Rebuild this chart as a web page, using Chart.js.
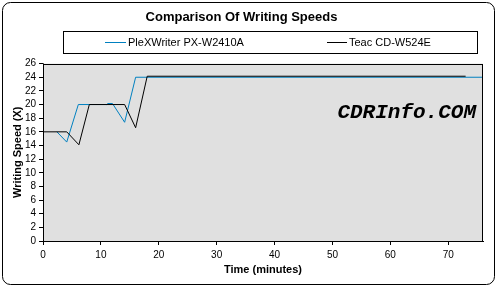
<!DOCTYPE html>
<html>
<head>
<meta charset="utf-8">
<script src="https://cdn.jsdelivr.net/npm/chart.js@4"></script>
<style>
  html, body { margin: 0; padding: 0; background: #fff; }
  #wrap { width: 498px; height: 288px; }
</style>
</head>
<body>
<div id="wrap"><canvas id="speed-chart" width="498" height="288"></canvas></div>
<script>
// values (minutes / X speed)
const plexTime  = [2.4, 4.1, 6.1, 11, 11.2, 12, 14.1, 16, 76];
const plexSpeed = [16, 14.5, 20, 20, 20.15, 20.15, 17.4, 24, 24];
const teacTime  = [0, 4.1, 6.2, 8, 14.1, 16, 18, 73];
const teacSpeed = [16, 16, 14.1, 20, 20, 16.6, 24.15, 24.15];
const seriesNames = ['PleXWriter PX-W2410A', 'Teac CD-W524E'];
const seriesColors = ['#0080c0', '#000000'];

function _points(xs, ys) {
    return xs.map((x, i) => ({x: x, y: ys[i]}));
}

const frame = {
    id: 'frame',
    beforeDatasetsDraw(chart) {
        const a = chart.chartArea, ctx = chart.ctx;
        ctx.save();
        ctx.fillStyle = '#e0e0e0';
        ctx.fillRect(a.left, a.top, a.right - a.left, a.bottom - a.top);
        ctx.restore();
    },
    afterDraw(chart) {
        const a = chart.chartArea, ctx = chart.ctx;
        ctx.save();
        ctx.strokeStyle = '#000';
        ctx.lineWidth = 1;
        ctx.strokeRect(Math.round(a.left) + 0.5, Math.round(a.top) + 0.5,
            Math.round(a.right - a.left) - 1, Math.round(a.bottom - a.top));
        // outer rounded frame
        ctx.beginPath();
        ctx.roundRect(2.5, 2.5, 492, 282, 8);
        ctx.stroke();
        // legend box
        ctx.strokeRect(63.5, 31.5, 414, 22);
        const items = [[105, 128], [327, 349]];
        ctx.font = '11px "Liberation Sans", Arial, sans-serif';
        ctx.textBaseline = 'middle';
        chart.data.datasets.forEach((ds, i) => {
            ctx.strokeStyle = ds.borderColor;
            ctx.beginPath();
            ctx.moveTo(items[i][0], 42.5);
            ctx.lineTo(items[i][1] - 2, 42.5);
            ctx.stroke();
            ctx.fillStyle = '#000';
            ctx.fillText(ds.label, items[i][1], 43);
        });
        // watermark
        ctx.font = 'italic bold 21px "Liberation Mono", "Courier New", monospace';
        ctx.textAlign = 'right';
        ctx.fillText('CDRInfo.COM', 476, 113);
        ctx.restore();
    }
};

new Chart(document.getElementById('speed-chart'), {
    type: 'scatter',
    data: {
        datasets: [{
            label: seriesNames[0],
            data: _points(plexTime, plexSpeed),
            showLine: true,
            borderColor: seriesColors[0],
            backgroundColor: seriesColors[0],
            borderWidth: 1,
            pointRadius: 0,
            order: 1
        }, {
            label: seriesNames[1],
            data: _points(teacTime, teacSpeed),
            showLine: true,
            borderColor: seriesColors[1],
            backgroundColor: seriesColors[1],
            borderWidth: 1,
            pointRadius: 0,
            order: 0
        }]
    },
    options: {
        responsive: false,
        animation: false,
        devicePixelRatio: 1,
        layout: {padding: {left: 0, right: 15, top: 0, bottom: 0}},
        plugins: {
            legend: {display: false},
            tooltip: {enabled: false},
            title: {
                display: true,
                text: 'Comparison Of Writing Speeds',
                color: '#000',
                font: {family: '"Liberation Sans", Arial, sans-serif', size: 13, weight: 'bold'},
                padding: {top: 10, bottom: 38}
            }
        },
        scales: {
            x: {
                type: 'linear',
                min: 0,
                max: 76,
                afterFit: s => { s.height = 47; },
                grid: {display: true, drawOnChartArea: false, tickLength: 4, color: '#000'},
                border: {display: true, color: '#000'},
                ticks: {
                    stepSize: 10,
                    includeBounds: false,
                    autoSkip: false,
                    color: '#000',
                    padding: 4,
                    maxRotation: 0,
                    font: {family: '"Liberation Sans", Arial, sans-serif', size: 10}
                },
                title: {
                    display: true,
                    text: 'Time (minutes)',
                    color: '#000',
                    font: {family: '"Liberation Sans", Arial, sans-serif', size: 11, weight: 'bold'},
                    padding: {top: 0, bottom: 11}
                }
            },
            y: {
                min: 0,
                max: 26,
                afterFit: s => { s.width = 43; },
                grid: {display: true, drawOnChartArea: false, tickLength: 4, color: '#000'},
                border: {display: true, color: '#000'},
                ticks: {
                    stepSize: 2,
                    autoSkip: false,
                    color: '#000',
                    padding: 3,
                    font: {family: '"Liberation Sans", Arial, sans-serif', size: 10}
                },
                title: {
                    display: true,
                    text: 'Writing Speed (X)',
                    color: '#000',
                    font: {family: '"Liberation Sans", Arial, sans-serif', size: 11, weight: 'bold'},
                    padding: {top: 11, bottom: 0}
                }
            }
        }
    },
    plugins: [frame]
});
</script>
</body>
</html>
